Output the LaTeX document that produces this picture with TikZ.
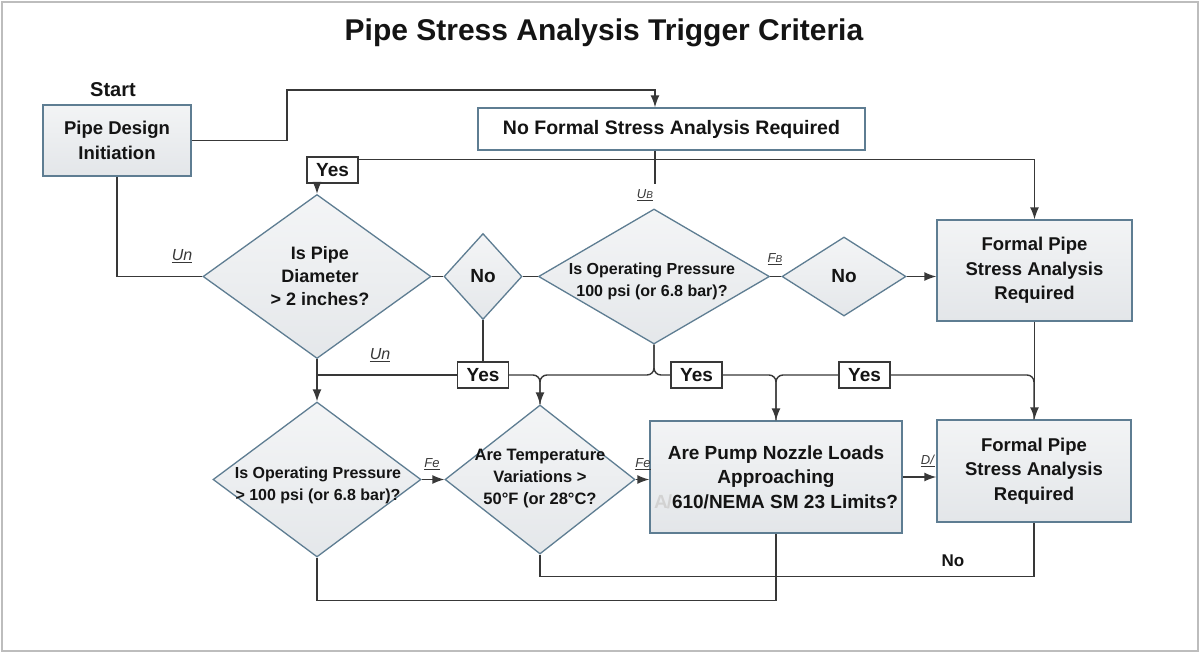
\documentclass[tikz,border=0pt]{standalone}
\usepackage{fontspec}
\setmainfont{Liberation Sans}
\usetikzlibrary{shapes.geometric,arrows.meta,calc}
\definecolor{boxc}{HTML}{5E7D92}
\definecolor{linec}{HTML}{383838}
\definecolor{fillc}{HTML}{E3E6E9}
\definecolor{txtc}{HTML}{141414}
\definecolor{framec}{HTML}{BDBDBD}
\newcommand{\smB}{{\fontsize{10}{10}\selectfont B}}
\tikzset{
  every node/.style={text=txtc},
  procbox/.style={rectangle, draw=boxc, line width=1.4pt, top color=fillc!45, bottom color=fillc,
    inner sep=0pt, align=center, font=\bfseries\fontsize{18.5}{24.5}\selectfont},
  plainbox/.style={rectangle, draw=boxc, line width=1.4pt, fill=white,
    inner sep=0pt, align=center, font=\bfseries\fontsize{19.5}{24}\selectfont},
  dia/.style={diamond, draw=boxc, line width=1.3pt, top color=fillc!40, bottom color=fillc!95,
    inner sep=0pt, font=\bfseries\fontsize{19}{22}\selectfont},
  dtext/.style={align=center, inner sep=0pt, font=\bfseries\fontsize{16}{22}\selectfont},
  yesbox/.style={rectangle, draw=linec, line width=1.3pt, fill=white, minimum width=51, minimum height=26,
    inner sep=0pt, font=\bfseries\fontsize{19}{19}\selectfont},
  lab/.style={inner sep=0pt, text=linec, font=\fontsize{16}{16}\selectfont},
  labs/.style={inner sep=0pt, text=linec, font=\fontsize{13}{13}\selectfont},
  conn/.style={draw=linec, line width=1.4pt},
  arr/.style={conn, -{Latex[length=12pt,width=9pt]}},
}
\begin{document}
\begin{tikzpicture}[x=1pt,y=-1pt]
\useasboundingbox (0,0) rectangle (1200,654);
\fill[white] (0,0) rectangle (1200,654);
\draw[framec,line width=2pt] (1.5,1.5) rectangle (1197.5,650.5);

\node[font=\bfseries\fontsize{30}{30}\selectfont] (title) at (604,33) {Pipe Stress Analysis Trigger Criteria};
\node[font=\bfseries\fontsize{20}{20}\selectfont] (start) at (113,90) {Start};

% nodes
\node[procbox, minimum width=148, minimum height=71] (pd) at (117,140.5) {Pipe Design\\Initiation};
\node[plainbox, minimum width=387, minimum height=42] (nf) at (671.5,129) {No Formal Stress Analysis Required};
\node[yesbox] (yes0) at (332.5,170) {Yes};

\node[dia, minimum width=228, minimum height=164] (d1) at (317,276.5) {};
\node[dtext, font=\bfseries\fontsize{18}{23}\selectfont] (d1t) at (320,276) {Is Pipe\\Diameter\\> 2 inches?};
\node[dia, minimum width=78, minimum height=86] (dno1) at (483,276.5) {No};
\node[dia, minimum width=231, minimum height=135] (d2) at (654,276.5) {};
\node[dtext] (d2t) at (652,281) {Is Operating Pressure\\100 psi (or 6.8 bar)?};
\node[dia, minimum width=124, minimum height=79] (dno2) at (844,276.5) {No};
\node[procbox, minimum width=195, minimum height=101] (f1) at (1034.5,270.5) {Formal Pipe\\Stress Analysis\\Required};

\node[yesbox] (yesA) at (483,375) {Yes};
\node[yesbox] (yesB) at (696.5,375) {Yes};
\node[yesbox] (yesC) at (864.5,375) {Yes};

\node[dia, minimum width=208, minimum height=155] (d3) at (317,479.5) {};
\node[dtext] (d3t) at (318,485) {Is Operating Pressure\\> 100 psi (or 6.8 bar)?};
\node[dia, minimum width=190, minimum height=149] (d4) at (540,479.5) {};
\node[dtext, font=\bfseries\fontsize{16.5}{22}\selectfont] (d4t) at (540,479) {Are Temperature\\Variations >\\50°F (or 28°C?};
\node[procbox, minimum width=252, minimum height=112, font=\bfseries\fontsize{19}{24.5}\selectfont] (pump) at (776,477)
  {Are Pump Nozzle Loads\\Approaching\\{\color{gray!35}A\kern-1pt/}610/NEMA SM 23 Limits?};
\node[procbox, minimum width=194, minimum height=102] (f2) at (1034,471) {Formal Pipe\\Stress Analysis\\Required};

% labels
\node[lab] (lun1) at (182,256) {\underline{\textit{Un}}};
\node[lab] (lun2) at (380,355) {\underline{\textit{Un}}};
\node[labs] (lub) at (645,195) {\underline{\textit{U\smB}}};
\node[labs] (lfb) at (775,259) {\underline{\textit{F\smB}}};
\node[labs] (lfe1) at (432,464) {\underline{\textit{Fe}}};
\node[labs] (lfe2) at (643,464) {\underline{\textit{Fe}}};
\node[labs] (ld) at (928,461) {\underline{\textit{D/}}};
\node[font=\bfseries\fontsize{17}{17}\selectfont] (nolab) at (953,561) {No};

% connectors
\coordinate (ubend) at (655,184);
\draw[arr] (pd.east) -| (287,90) -| ([xshift=-16.5pt]nf.north);
\draw[arr] ($(yes0.north east)+(0,3)$) -| (f1.north);
\draw[conn] ([xshift=-16.5pt]nf.south) -- (ubend);
\draw[arr] (yes0.south -| d1.north) -- (d1.north);
\draw[conn] (pd.south) |- (d1.west);
\draw[conn] (d1.east) -- (dno1.west);
\draw[conn] (dno1.east) -- (d2.west);
\draw[conn] (d2.east) -- (dno2.west);
\draw[arr] (dno2.east) -- (dno2.east -| f1.west);
\draw[arr] (d1.south) -- (d3.north);
\draw[conn] (d1.south |- yesA.west) -- (yesA.west);
\draw[conn] (dno1.south) -- (dno1.south |- yesA.north);
\draw[conn, rounded corners=7pt] (d2.south) |- (d4.north |- yesB.west) -- (d4.north);
\draw[arr, rounded corners=7pt] (yesA.east) -| (d4.north);
\draw[conn, rounded corners=7pt] (d2.south) |- (yesB.west);
\draw[conn, rounded corners=7pt] (yesC.west) -| (pump.north);
\draw[arr, rounded corners=7pt] (yesB.east) -| (pump.north);
\draw[conn, rounded corners=7pt] (yesC.east) -| (f2.north);
\draw[arr] (f1.south) -- (f1.south |- f2.north);
\draw[arr] (d3.east) -- (d4.west);
\draw[arr] (d4.east) -- (d4.east -| pump.west);
\draw[arr] (pump.east) -- (pump.east -| f2.west);
\draw[conn] (d4.south) -- ++(0,22) -| (f2.south);
\draw[conn] (d3.south) -- ++(0,43) -| (pump.south);
\end{tikzpicture}
\end{document}
